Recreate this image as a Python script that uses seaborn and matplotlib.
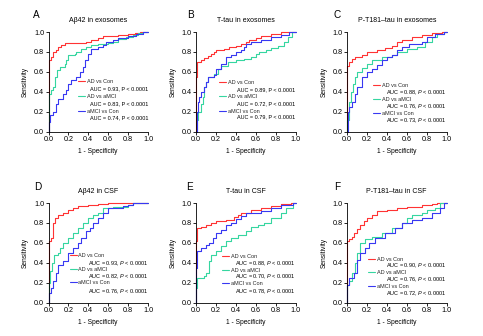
import numpy as np
import pandas as pd
import matplotlib
matplotlib.use("Agg")
import matplotlib.pyplot as plt
from matplotlib.lines import Line2D
import seaborn as sns

sns.set_theme(style="ticks")
plt.rcParams['font.family'] = ['Liberation Sans', 'DejaVu Sans']
plt.rcParams['mathtext.fontset'] = 'custom'
plt.rcParams['mathtext.rm'] = 'Liberation Sans'
plt.rcParams['mathtext.it'] = 'Liberation Sans:italic'

# ---------------- data ----------------
COMPARISONS = ["AD vs Con", "AD vs aMCI", "aMCI vs Con"]
COLORS = ["#FF3333", "#35D6A0", "#3838F2"]
TICKS = [0.0, 0.2, 0.4, 0.6, 0.8, 1.0]
TICK_LABELS = ["0.0", "0.2", "0.4", "0.6", "0.8", "1.0"]

LETTERS = ["A", "B", "C", "D", "E", "F"]
TITLES = ["Aβ42 in exosomes", "T-tau in exosomes", "P-T181–tau in exosomes",
          "Aβ42 in CSF", "T-tau in CSF", "P-T181–tau in CSF"]
AUC_A = ["0.93", "0.83", "0.74"]
AUC_B = ["0.89", "0.72", "0.79"]
AUC_C = ["0.88", "0.76", "0.73"]
AUC_D = ["0.93", "0.82", "0.76"]
AUC_E = ["0.88", "0.70", "0.78"]
AUC_F = ["0.90", "0.76", "0.72"]
P_ITALIC = [False, False, True, True, True, True]

# Panel A
A_red_x = [0, 0, 0.01, 0.03, 0.05, 0.08, 0.10, 0.13, 0.17, 0.38, 0.43, 0.50, 0.55, 0.70, 0.80, 0.87, 0.92, 1.0]
A_red_y = [0, 0.58, 0.72, 0.75, 0.80, 0.82, 0.85, 0.87, 0.89, 0.90, 0.92, 0.94, 0.96, 0.97, 0.98, 0.99, 1.0, 1.0]
A_grn_x = [0, 0, 0.01, 0.03, 0.05, 0.07, 0.09, 0.12, 0.17, 0.18, 0.20, 0.27, 0.28, 0.33, 0.38, 0.43, 0.50, 0.60, 0.65, 0.70, 0.78, 0.85, 0.90, 0.95, 1.0]
A_grn_y = [0, 0.33, 0.38, 0.42, 0.45, 0.55, 0.62, 0.65, 0.68, 0.72, 0.77, 0.78, 0.80, 0.83, 0.85, 0.87, 0.88, 0.89, 0.90, 0.93, 0.95, 0.97, 0.99, 1.0, 1.0]
A_blu_x = [0, 0.01, 0.02, 0.05, 0.08, 0.10, 0.15, 0.18, 0.20, 0.23, 0.28, 0.32, 0.35, 0.37, 0.40, 0.43, 0.50, 0.55, 0.58, 0.65, 0.70, 0.80, 0.88, 0.95, 1.0]
A_blu_y = [0, 0.10, 0.17, 0.20, 0.28, 0.33, 0.38, 0.42, 0.48, 0.52, 0.55, 0.60, 0.65, 0.72, 0.78, 0.83, 0.85, 0.87, 0.90, 0.92, 0.94, 0.96, 0.98, 1.0, 1.0]

# Panel B
B_red_x = [0, 0, 0.01, 0.05, 0.08, 0.12, 0.15, 0.18, 0.20, 0.28, 0.33, 0.40, 0.45, 0.50, 0.53, 0.60, 0.65, 0.75, 0.85, 1.0]
B_red_y = [0, 0.55, 0.70, 0.72, 0.74, 0.76, 0.78, 0.80, 0.82, 0.83, 0.85, 0.86, 0.88, 0.90, 0.92, 0.94, 0.96, 0.98, 1.0, 1.0]
B_grn_x = [0, 0.01, 0.02, 0.05, 0.07, 0.08, 0.10, 0.12, 0.18, 0.22, 0.25, 0.32, 0.40, 0.48, 0.55, 0.60, 0.63, 0.70, 0.75, 0.82, 0.88, 0.92, 0.96, 1.0]
B_grn_y = [0, 0.12, 0.20, 0.28, 0.35, 0.45, 0.50, 0.55, 0.58, 0.63, 0.66, 0.70, 0.72, 0.73, 0.75, 0.78, 0.80, 0.82, 0.84, 0.86, 0.90, 0.95, 1.0, 1.0]
B_blu_x = [0, 0.01, 0.02, 0.03, 0.05, 0.08, 0.10, 0.12, 0.18, 0.20, 0.25, 0.30, 0.35, 0.40, 0.45, 0.48, 0.50, 0.55, 0.65, 0.75, 0.85, 0.93, 1.0]
B_blu_y = [0, 0.20, 0.30, 0.35, 0.40, 0.45, 0.50, 0.55, 0.57, 0.63, 0.68, 0.75, 0.77, 0.80, 0.82, 0.85, 0.88, 0.90, 0.92, 0.95, 0.97, 1.0, 1.0]

# Panel C
C_red_x = [0, 0, 0.02, 0.05, 0.08, 0.15, 0.20, 0.30, 0.38, 0.45, 0.50, 0.55, 0.65, 0.75, 0.85, 0.95, 1.0]
C_red_y = [0, 0.66, 0.70, 0.73, 0.75, 0.77, 0.80, 0.82, 0.84, 0.86, 0.90, 0.92, 0.95, 0.97, 0.99, 1.0, 1.0]
C_grn_x = [0, 0, 0.02, 0.04, 0.06, 0.08, 0.10, 0.15, 0.20, 0.25, 0.35, 0.45, 0.50, 0.60, 0.70, 0.78, 0.85, 0.90, 0.97, 1.0]
C_grn_y = [0, 0.12, 0.30, 0.40, 0.48, 0.55, 0.60, 0.64, 0.68, 0.72, 0.75, 0.77, 0.80, 0.83, 0.85, 0.90, 0.95, 0.98, 1.0, 1.0]
C_blu_x = [0, 0.01, 0.02, 0.05, 0.08, 0.10, 0.15, 0.20, 0.25, 0.30, 0.35, 0.40, 0.45, 0.50, 0.55, 0.62, 0.75, 0.80, 0.88, 0.97, 1.0]
C_blu_y = [0, 0.20, 0.25, 0.30, 0.38, 0.45, 0.55, 0.60, 0.63, 0.67, 0.72, 0.75, 0.77, 0.82, 0.85, 0.88, 0.90, 0.95, 0.98, 1.0, 1.0]

# Panel D
D_red_x = [0, 0, 0.01, 0.03, 0.05, 0.07, 0.10, 0.15, 0.20, 0.25, 0.30, 0.40, 0.50, 0.60, 1.0]
D_red_y = [0, 0.40, 0.62, 0.65, 0.80, 0.85, 0.88, 0.90, 0.93, 0.95, 0.97, 0.98, 0.99, 1.0, 1.0]
D_grn_x = [0, 0, 0.01, 0.02, 0.04, 0.06, 0.10, 0.12, 0.15, 0.20, 0.25, 0.30, 0.35, 0.40, 0.45, 0.50, 0.55, 0.65, 0.80, 0.85, 1.0]
D_grn_y = [0, 0.08, 0.20, 0.32, 0.40, 0.48, 0.50, 0.55, 0.60, 0.65, 0.70, 0.75, 0.80, 0.85, 0.88, 0.90, 0.95, 0.96, 0.98, 1.0, 1.0]
D_blu_x = [0, 0.01, 0.03, 0.05, 0.08, 0.10, 0.15, 0.20, 0.25, 0.30, 0.33, 0.38, 0.42, 0.45, 0.50, 0.55, 0.60, 0.75, 0.80, 0.85, 1.0]
D_blu_y = [0, 0.10, 0.15, 0.22, 0.30, 0.38, 0.42, 0.50, 0.55, 0.60, 0.65, 0.72, 0.75, 0.80, 0.85, 0.90, 0.95, 0.97, 0.98, 1.0, 1.0]

# Panel E
E_red_x = [0, 0, 0.01, 0.05, 0.10, 0.15, 0.20, 0.30, 0.38, 0.42, 0.45, 0.55, 0.65, 0.75, 0.85, 0.95, 1.0]
E_red_y = [0, 0.62, 0.75, 0.76, 0.78, 0.80, 0.82, 0.83, 0.86, 0.88, 0.90, 0.93, 0.95, 0.97, 0.99, 1.0, 1.0]
E_grn_x = [0, 0, 0.01, 0.08, 0.10, 0.13, 0.15, 0.20, 0.25, 0.30, 0.35, 0.42, 0.50, 0.55, 0.62, 0.68, 0.75, 0.85, 0.90, 0.97, 1.0]
E_grn_y = [0, 0.15, 0.25, 0.27, 0.30, 0.42, 0.48, 0.52, 0.57, 0.62, 0.65, 0.68, 0.72, 0.76, 0.78, 0.80, 0.85, 0.90, 0.95, 1.0, 1.0]
E_blu_x = [0, 0, 0.01, 0.05, 0.10, 0.13, 0.17, 0.20, 0.25, 0.30, 0.35, 0.40, 0.45, 0.50, 0.65, 0.75, 0.85, 0.97, 1.0]
E_blu_y = [0, 0.35, 0.52, 0.55, 0.58, 0.60, 0.65, 0.70, 0.73, 0.78, 0.80, 0.84, 0.87, 0.90, 0.92, 0.95, 0.98, 1.0, 1.0]

# Panel F
F_red_x = [0, 0, 0.02, 0.05, 0.07, 0.10, 0.13, 0.17, 0.20, 0.25, 0.30, 0.40, 0.50, 0.60, 0.75, 0.85, 0.90, 1.0]
F_red_y = [0, 0.62, 0.64, 0.66, 0.70, 0.74, 0.78, 0.82, 0.85, 0.88, 0.92, 0.93, 0.95, 0.96, 0.98, 0.99, 1.0, 1.0]
F_grn_x = [0, 0, 0.02, 0.05, 0.08, 0.10, 0.13, 0.18, 0.25, 0.35, 0.45, 0.55, 0.60, 0.65, 0.75, 0.80, 0.88, 0.93, 1.0]
F_grn_y = [0, 0.18, 0.22, 0.30, 0.40, 0.50, 0.60, 0.64, 0.66, 0.70, 0.75, 0.80, 0.85, 0.88, 0.90, 0.93, 0.95, 1.0, 1.0]
F_blu_x = [0, 0, 0.02, 0.07, 0.10, 0.13, 0.18, 0.22, 0.28, 0.38, 0.48, 0.55, 0.65, 0.75, 0.85, 0.93, 0.97, 1.0]
F_blu_y = [0, 0.18, 0.25, 0.30, 0.43, 0.50, 0.55, 0.60, 0.65, 0.70, 0.75, 0.80, 0.83, 0.85, 0.90, 0.95, 1.0, 1.0]

CURVES = [
    [(A_red_x, A_red_y), (A_grn_x, A_grn_y), (A_blu_x, A_blu_y)],
    [(B_red_x, B_red_y), (B_grn_x, B_grn_y), (B_blu_x, B_blu_y)],
    [(C_red_x, C_red_y), (C_grn_x, C_grn_y), (C_blu_x, C_blu_y)],
    [(D_red_x, D_red_y), (D_grn_x, D_grn_y), (D_blu_x, D_blu_y)],
    [(E_red_x, E_red_y), (E_grn_x, E_grn_y), (E_blu_x, E_blu_y)],
    [(F_red_x, F_red_y), (F_grn_x, F_grn_y), (F_blu_x, F_blu_y)],
]
AUCS = [AUC_A, AUC_B, AUC_C, AUC_D, AUC_E, AUC_F]

# ---------------- layout ----------------
W, H = 483, 336
fig = plt.figure(figsize=(W / 100, H / 100), dpi=100)
col_left = [48.5, 196, 347]
row_top = [32, 203]
ax_w, ax_h = 99.5, 99.5
letter_pos = [(33, 15), (187, 15), (333, 15), (34, 187), (186, 187), (334, 187)]
# legend anchor (x of handle start, y centre of middle entry), row spacing, AUC text y positions
leg_anchor = [(0.30, 0.35), (0.235, 0.35), (0.265, 0.32), (0.215, 0.335), (0.265, 0.325), (0.215, 0.30)]
leg_spacing = [1.82, 1.69, 1.64, 1.55, 1.55, 1.51]
auc_y = [(0.427, 0.277, 0.137), (0.42, 0.28, 0.143), (0.387, 0.253, 0.11),
         (0.39, 0.256, 0.104), (0.39, 0.256, 0.104), (0.367, 0.232, 0.09)]
LEG_FS = 4.0

for i in range(6):
    r, c = divmod(i, 3)
    left = col_left[c] / W
    bottom = 1 - (row_top[r] + ax_h) / H
    ax = fig.add_axes([left, bottom, ax_w / W, ax_h / H])

    frames = []
    for k, (xs, ys) in enumerate(CURVES[i]):
        frames.append(pd.DataFrame({"fpr": xs, "tpr": ys, "comparison": COMPARISONS[k]}))
    df = pd.concat(frames, ignore_index=True)
    sns.lineplot(data=df, x="fpr", y="tpr", hue="comparison", hue_order=COMPARISONS,
                 palette=COLORS, estimator=None, sort=False, drawstyle="steps-post",
                 linewidth=0.8, legend=False, ax=ax, clip_on=False)

    ax.set_xlim(0, 1)
    ax.set_ylim(0, 1)
    ax.set_xticks(TICKS)
    ax.set_xticklabels(TICK_LABELS)
    ax.set_yticks(TICKS)
    ax.set_yticklabels(TICK_LABELS)
    ax.tick_params(labelsize=5.2, length=2, width=0.6, pad=1.2, color="black", labelcolor="black")
    for s in ["left", "bottom"]:
        ax.spines[s].set_linewidth(0.6)
        ax.spines[s].set_color("black")
    sns.despine(ax=ax)
    ax.set_xlabel("1 - Specificity", fontsize=4.8, labelpad=3.5, color="black")
    ax.set_ylabel("Sensitivity", fontsize=4.8, labelpad=3.5, color="black")
    ax.set_title(TITLES[i], fontsize=5.0, pad=7.0, color="black")

    handles = [Line2D([], [], color=col, lw=0.8) for col in COLORS]
    ax.legend(handles, COMPARISONS, loc="center left", bbox_to_anchor=leg_anchor[i],
              frameon=False, fontsize=LEG_FS, handlelength=1.2, handletextpad=0.3,
              labelspacing=leg_spacing[i], borderpad=0, borderaxespad=0)
    for k in range(3):
        p = r"$\it{P}$" if P_ITALIC[i] else "P"
        ax.text(1.0, auc_y[i][k], f"AUC = {AUCS[i][k]}, {p} < 0.0001",
                transform=ax.transAxes, ha="right", va="center", fontsize=LEG_FS, color="black")

    lx, ly = letter_pos[i]
    fig.text(lx / W, 1 - ly / H, LETTERS[i], fontsize=7.2, ha="left", va="center", color="black")

fig.savefig("out.png", dpi=100, facecolor="white")
